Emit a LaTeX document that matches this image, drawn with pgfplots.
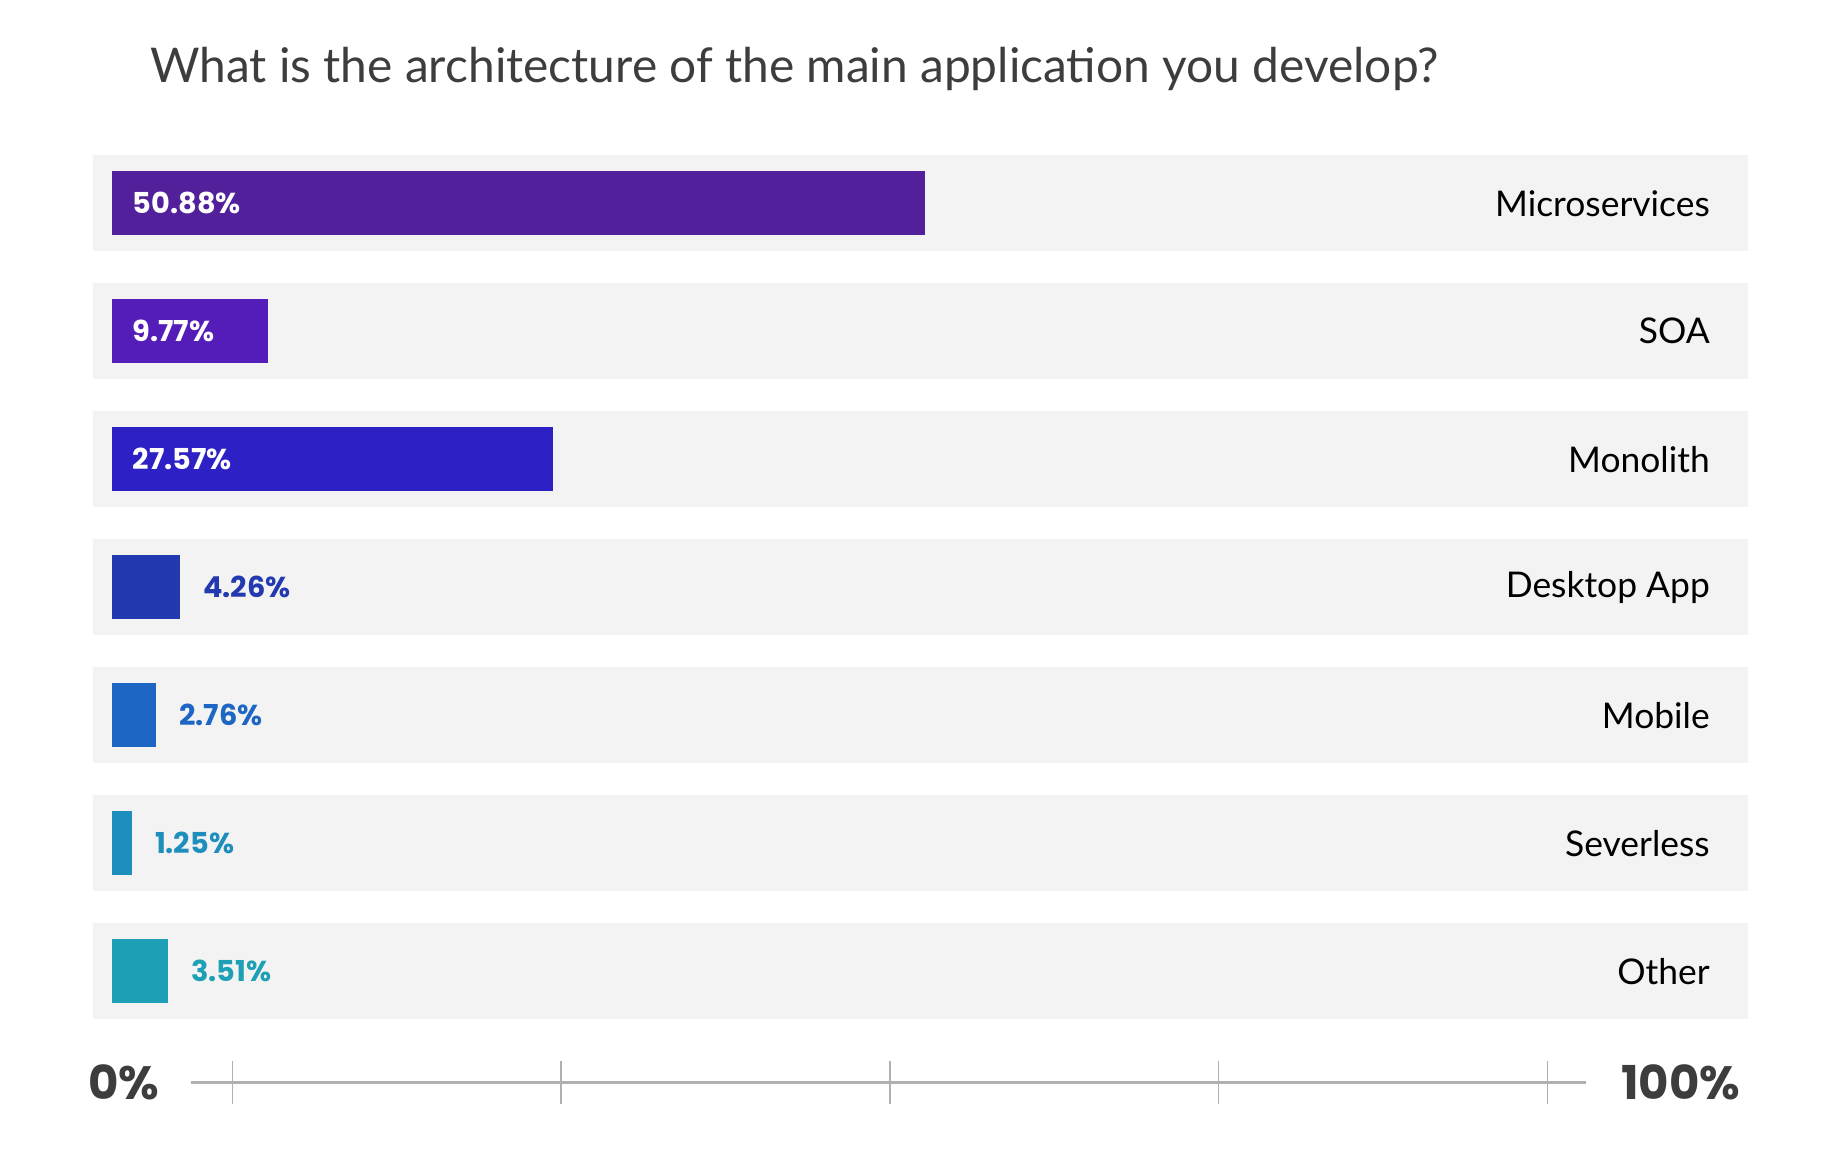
\documentclass[border=0pt]{standalone}
\usepackage{fontspec}
\setmainfont{Lato}
\newfontfamily\popp{Poppins}
\usepackage{pgfplots}
\pgfplotsset{compat=1.18}

\definecolor{band}{HTML}{F3F3F3}
\definecolor{cA}{HTML}{52209A}
\definecolor{cB}{HTML}{541CB9}
\definecolor{cC}{HTML}{2D21C5}
\definecolor{cD}{HTML}{2339AF}
\definecolor{cE}{HTML}{1E66C4}
\definecolor{cF}{HTML}{1E8EBC}
\definecolor{cG}{HTML}{1DA0B5}
\definecolor{titlegray}{HTML}{3D3D3D}
\definecolor{linegray}{HTML}{B0B0B0}

\begin{document}
\begin{tikzpicture}
  \useasboundingbox (-24pt,-37.1pt) rectangle (446.2pt,261.9pt);
  \pgfplotsset{
    mybar/.style={xbar, bar shift=0pt, bar width=16.5pt, draw=none, fill=#1},
    outlbl/.style={nodes near coords, point meta=explicit symbolic,
      nodes near coords style={anchor=west, inner sep=0pt, xshift=5.7pt,
        text=#1, font=\popp\bfseries\fontsize{7.4pt}{8pt}\selectfont}},
  }
\begin{axis}[
  name=main,
  at={(0,0)}, anchor=south west,
  width=425.1pt, height=222pt, scale only axis,
  xmin=-1.17, xmax=102.4,
  ymin=-0.375, ymax=6.375,
  y dir=reverse,
  enlargelimits=false,
  clip=false,
  axis on top,
  axis line style={draw=none},
  xtick=\empty,
  ytick={0,...,6},
  yticklabels={Microservices, SOA, Monolith, Desktop App, Mobile, Severless, Other},
  yticklabel pos=right,
  major tick length=0pt,
  yticklabel style={anchor=east, xshift=-9.6pt, inner sep=0pt,
    font=\fontsize{9.1pt}{11pt}\selectfont, text=black},
  title={What is the architecture of the main application you develop?},
  title style={at={(0,1)}, anchor=base west, inner sep=0pt,
    xshift=14.4pt, yshift=12.6pt,
    font=\fontsize{12.3pt}{14pt}\selectfont, text=titlegray},
]
  % grey row bands
  \pgfplotsinvokeforeach{0,...,6}{
    \fill[band] (axis cs:-1.17,#1-0.375) rectangle (axis cs:102.4,#1+0.375);
  }
  % bars
  \addplot[mybar=cA] coordinates {(50.88,0)};
  \addplot[mybar=cB] coordinates {(9.77,1)};
  \addplot[mybar=cC] coordinates {(27.57,2)};
  \addplot[mybar=cD, outlbl=cD] coordinates {(4.26,3) [4.26\%]};
  \addplot[mybar=cE, outlbl=cE] coordinates {(2.76,4) [2.76\%]};
  \addplot[mybar=cF, outlbl=cF] coordinates {(1.25,5) [1.25\%]};
  \addplot[mybar=cG, outlbl=cG] coordinates {(3.51,6) [3.51\%]};
  % labels inside the long bars
  \addplot[draw=none, mark=none, nodes near coords, point meta=explicit symbolic,
    nodes near coords style={anchor=west, inner sep=0pt, xshift=5.1pt,
      text=white, font=\popp\bfseries\fontsize{7.4pt}{8pt}\selectfont}]
    coordinates {(0,0) [50.88\%] (0,1) [9.77\%] (0,2) [27.57\%]};
\end{axis}

% decorative scale at the bottom
\begin{axis}[
  at={(25.2pt,-16.3pt)}, anchor=south west,
  width=358.2pt, height=10pt, scale only axis,
  xmin=-3.1, xmax=102.9, ymin=0, ymax=1,
  axis x line=bottom, axis y line=none,
  axis line style={-, draw=linegray, line width=0.9pt},
  xtick={0,25,50,75,100}, xticklabels={},
  tick align=center, major tick length=11.1pt,
  xtick style={draw=linegray, line width=0.35pt},
  clip=false,
]
  \node[anchor=east, inner sep=0pt, text=titlegray,
    font=\popp\bfseries\fontsize{12pt}{14pt}\selectfont]
    at (rel axis cs:0,0) [xshift=-8.1pt] {0\%};
  \node[anchor=west, inner sep=0pt, text=titlegray,
    font=\popp\bfseries\fontsize{12pt}{14pt}\selectfont]
    at (rel axis cs:1,0) [xshift=9pt] {100\%};
\end{axis}
\end{tikzpicture}
\end{document}
